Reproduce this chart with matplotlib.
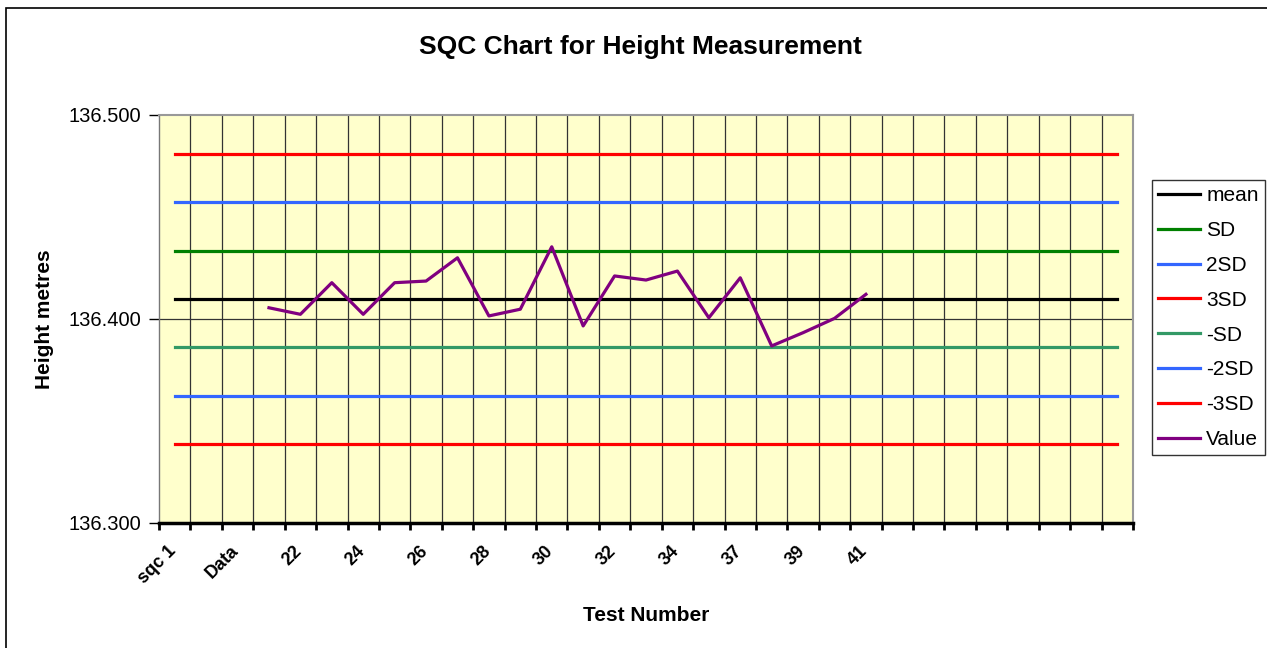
import matplotlib.pyplot as plt
import matplotlib.transforms as mtransforms
from matplotlib.patches import Rectangle
from matplotlib.ticker import FixedLocator, NullFormatter

plt.rcParams['font.family'] = ['Liberation Sans', 'DejaVu Sans']

categories = ['sqc 1', '', 'Data', '21', '22', '23', '24', '25', '26', '27',
              '28', '29', '30', '31', '32', '33', '34', '36', '37', '38',
              '39', '40', '41', '', '', '', '', '', '', '', '']
values = [136.4055, 136.4023, 136.4178, 136.4023, 136.4178, 136.4186,
          136.4300, 136.4015, 136.4048, 136.4354, 136.3966, 136.4211,
          136.4191, 136.4235, 136.4006, 136.4202, 136.3868, 136.3933,
          136.4003, 136.4121]
value_start = 3

mean = 136.4098
sd_p1 = 136.4335
sd_p2 = 136.4572
sd_p3 = 136.4810
sd_m1 = 136.3862
sd_m2 = 136.3624
sd_m3 = 136.3387

fig = plt.figure(figsize=(12.67, 6.48), dpi=100)
ax = fig.add_axes([159 / 1267, 1 - 523 / 648, (1133 - 159) / 1267, (523 - 115) / 648])
ax.set_facecolor('#FFFFCC')

n = len(categories)
xs = list(range(n))
lw = 2.3
ax.plot(xs, [mean] * n, color='black', lw=lw, label='mean')
ax.plot(xs, [sd_p1] * n, color='#008000', lw=lw, label='SD')
ax.plot(xs, [sd_p2] * n, color='#3366FF', lw=lw, label='2SD')
ax.plot(xs, [sd_p3] * n, color='#FF0000', lw=lw, label='3SD')
ax.plot(xs, [sd_m1] * n, color='#339966', lw=lw, label='-SD')
ax.plot(xs, [sd_m2] * n, color='#3366FF', lw=lw, label='-2SD')
ax.plot(xs, [sd_m3] * n, color='#FF0000', lw=lw, label='-3SD')
vx = list(range(value_start, value_start + len(values)))
ax.plot(vx, values, color='#800080', lw=lw, label='Value')

ax.set_xlim(-0.5, n - 0.5)
ax.set_ylim(136.3, 136.5)

# category boundaries: tick marks + vertical gridlines
bounds = [i - 0.5 for i in range(n + 1)]
ax.xaxis.set_major_locator(FixedLocator(bounds))
ax.xaxis.set_major_formatter(NullFormatter())
ax.tick_params(axis='x', which='major', length=5, width=2, color='black')
for b in bounds[1:-1]:
    ax.axvline(b, color='#333333', lw=0.9, zorder=0.5)

# labels every other category, at category centres
lab_pos = xs[::2]
ax.xaxis.set_minor_locator(FixedLocator(lab_pos))
ax.set_xticklabels([categories[i] for i in lab_pos], minor=True,
                   rotation=45, ha='right', rotation_mode='anchor',
                   fontsize=13, fontweight='bold')
ax.tick_params(axis='x', which='minor', length=0, pad=14)
shift = mtransforms.ScaledTranslation(-7 / 100, 0, fig.dpi_scale_trans)
for lab in ax.get_xticklabels(minor=True):
    lab.set_transform(lab.get_transform() + shift)

ax.set_yticks([136.3, 136.4, 136.5])
ax.set_yticklabels(['136.300', '136.400', '136.500'], fontsize=14.5)
ax.tick_params(axis='y', length=7, width=1, color='black', pad=6)
ax.axhline(136.4, color='#333333', lw=0.9, zorder=0.5)

for s in ['top', 'right']:
    ax.spines[s].set_color('#999999')
    ax.spines[s].set_linewidth(1.5)
ax.spines['left'].set_color('#777777')
ax.spines['left'].set_linewidth(1)
ax.spines['bottom'].set_color('black')
ax.spines['bottom'].set_linewidth(2.5)

ax.set_ylabel('Height metres', fontsize=15, fontweight='bold', labelpad=10)
ax.set_xlabel('Test Number', fontsize=15, fontweight='bold', labelpad=14)
fig.text(640 / 1267, 1 - 47 / 648, 'SQC Chart for Height Measurement',
         ha='center', va='center', fontsize=19, fontweight='bold')

leg = fig.legend(loc='upper left', bbox_to_anchor=(1152 / 1267, 1 - 180 / 648),
                 fontsize=15, frameon=True, fancybox=False, edgecolor='black',
                 handlelength=2.0, handletextpad=0.3, labelspacing=0.76,
                 borderpad=0.3, borderaxespad=0)
leg.get_frame().set_linewidth(1)

fig.patches.append(Rectangle((6 / 1267, -0.01), 1.0, 1 - 8 / 648 + 0.01,
                             transform=fig.transFigure, fill=False,
                             edgecolor='black', lw=1.2))

plt.savefig('out.png', dpi=100)
